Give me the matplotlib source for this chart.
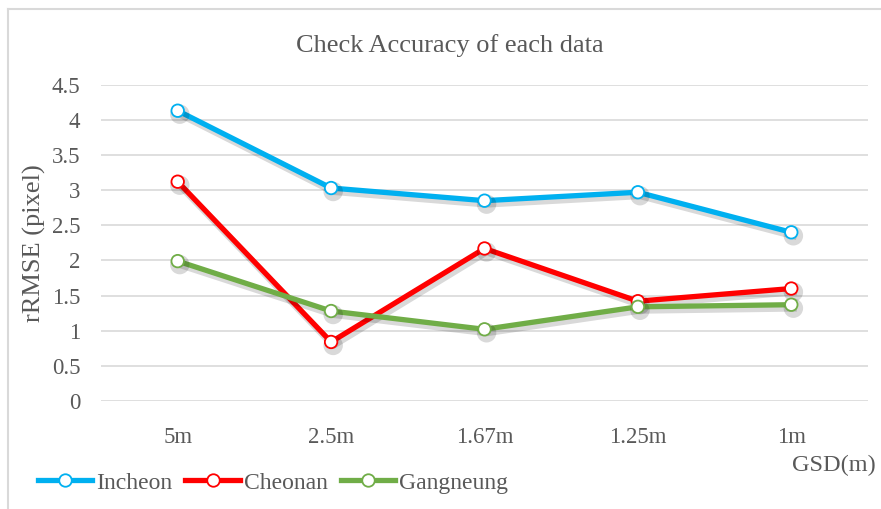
import matplotlib
matplotlib.use("Agg")
import matplotlib.pyplot as plt
import matplotlib.patheffects as pe
from matplotlib.lines import Line2D

# data
gsd_labels = ["5m", "2.5m", "1.67m", "1.25m", "1m"]
incheon = [4.13, 3.03, 2.85, 2.97, 2.40]
cheonan = [3.12, 0.84, 2.17, 1.42, 1.60]
gangneung = [1.99, 1.28, 1.02, 1.34, 1.37]

series_names = ["Incheon", "Cheonan", "Gangneung"]
series_colors = ["#00B0F0", "#FF0000", "#70AD47"]

plt.rcParams['font.family'] = ['Liberation Serif', 'DejaVu Serif']
text_color = "#595959"

fig = plt.figure(figsize=(8.81, 5.09), dpi=100)
ax = fig.add_axes([101 / 881, 1 - 401 / 509, 767 / 881, (401 - 84.7) / 509])

# outer chart border: only top and left edges are visible in the reference
fig.add_artist(Line2D([8 / 881, 1.0], [1 - 9 / 509, 1 - 9 / 509],
                      transform=fig.transFigure, color="#D9D9D9", linewidth=1.5))
fig.add_artist(Line2D([8 / 881, 8 / 881], [0, 1 - 9 / 509],
                      transform=fig.transFigure, color="#D9D9D9", linewidth=1.5))

x = range(len(gsd_labels))
shadow = [pe.SimpleLineShadow(offset=(1.5, -2.5), shadow_color="#000000", alpha=0.15, linewidth=5),
          pe.Normal()]
for values, name, color in zip([incheon, cheonan, gangneung], series_names, series_colors):
    ax.plot(x, values, color=color, linewidth=3.8, marker="o", markersize=9,
            markerfacecolor="white", markeredgecolor=color, markeredgewidth=1.3,
            label=name, path_effects=shadow, zorder=3)

ax.set_xlim(-0.5, 4.5)
ax.set_ylim(0, 4.5)
ax.set_yticks([0, 0.5, 1, 1.5, 2, 2.5, 3, 3.5, 4, 4.5])
ax.set_yticklabels(["0", "0.5", "1", "1.5", "2", "2.5", "3", "3.5", "4", "4.5"])
ax.set_xticks(list(x))
ax.set_xticklabels(gsd_labels)
ax.grid(axis="y", color="#D9D9D9", linewidth=1.2)
ax.set_axisbelow(True)
for s in ax.spines.values():
    s.set_visible(False)
ax.tick_params(length=0, labelsize=16.5, colors=text_color)
ax.tick_params(axis="y", pad=15)
ax.tick_params(axis="x", pad=19)

ax.set_ylabel("rRMSE (pixel)", fontsize=19, color=text_color, labelpad=4)
fig.text(450 / 881, 1 - 46 / 509, "Check Accuracy of each data", fontsize=19,
         color=text_color, ha="center", va="center")
fig.text(792 / 881, 1 - 465 / 509, "GSD(m)", fontsize=17.5, color=text_color,
         ha="left", va="center")

handles = [Line2D([0], [0], color=c, linewidth=3.8, marker="o", markersize=9,
                  markerfacecolor="white", markeredgecolor=c, markeredgewidth=1.3)
           for c in series_colors]
leg = fig.legend(handles, series_names, loc="center left",
                 bbox_to_anchor=(38 / 881, 1 - 483 / 509), ncol=3, frameon=False,
                 fontsize=17, handlelength=2.3, handletextpad=0.17, columnspacing=0.55,
                 borderaxespad=0, borderpad=0)
for t in leg.get_texts():
    t.set_color(text_color)

fig.savefig("out.png", dpi=100)
